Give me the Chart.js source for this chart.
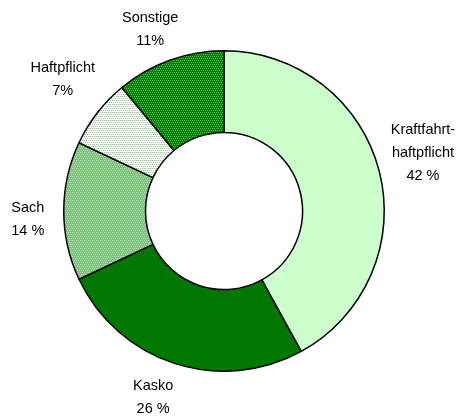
<!DOCTYPE html>
<html>
<head>
<meta charset="utf-8">
<script src="https://cdn.jsdelivr.net/npm/chart.js@4"></script>
<style>
  html, body { margin: 0; padding: 0; background: #fff; }
  #wrap { width: 461px; height: 416px; position: relative; }
</style>
</head>
<body>
<div id="wrap"><canvas id="chart"></canvas></div>
<script>
// Versicherungssparten, Anteile in Prozent
const categories = ['Kraftfahrt-haftpflicht', 'Kasko', 'Sach', 'Haftpflicht', 'Sonstige'];
const shares = [42, 26, 14, 7, 11];
// text lines drawn next to each slice
const labelLines = [
  ['Kraftfahrt-', 'haftpflicht', '42 %'],
  ['Kasko', '26 %'],
  ['Sach', '14 %'],
  ['Haftpflicht', '7%'],
  ['Sonstige', '11%']
];

// small dotted fill like the old office hatch patterns
function makePattern(bg, fg) {
  const c = document.createElement('canvas');
  c.width = 4;
  c.height = 4;
  const g = c.getContext('2d');
  g.fillStyle = bg;
  g.fillRect(0, 0, 4, 4);
  g.fillStyle = fg;
  g.fillRect(0, 0, 1, 1);
  g.fillRect(2, 0, 1, 1);
  g.fillRect(1, 2, 1, 1);
  g.fillRect(3, 2, 1, 1);
  return g.createPattern(c, 'repeat');
}

const sliceColors = [
  '#ccffcc',
  '#007800',
  makePattern('#7cc27c', '#b4e0b4'),
  makePattern('#ffffff', '#8fcb8f'),
  makePattern('#008000', '#52b452')
];

// labels are placed from the arc geometry: mid angle, outer radius + gap, then a nudge
const outsideLabels = {
  id: 'outsideLabels',
  afterDatasetsDraw(chart, args, opts) {
    const ctx = chart.ctx;
    const meta = chart.getDatasetMeta(0);
    ctx.save();
    ctx.font = opts.font;
    ctx.fillStyle = '#000';
    ctx.textAlign = 'center';
    ctx.textBaseline = 'middle';
    meta.data.forEach((arc, i) => {
      const p = arc.getProps(['x', 'y', 'startAngle', 'endAngle', 'outerRadius'], true);
      const mid = (p.startAngle + p.endAngle) / 2;
      const r = p.outerRadius + opts.gap;
      const nudge = opts.nudge[i];
      const cx = p.x + Math.cos(mid) * r + nudge[0];
      const cy = p.y + Math.sin(mid) * r + nudge[1];
      const lines = labelLines[i];
      const top = cy - (lines.length - 1) * opts.lineHeight / 2;
      lines.forEach((t, k) => ctx.fillText(t, cx, top + k * opts.lineHeight));
    });
    ctx.restore();
  }
};

new Chart(document.getElementById('chart'), {
  type: 'doughnut',
  data: {
    labels: categories,
    datasets: [{
      data: shares,
      backgroundColor: sliceColors,
      borderColor: '#000000',
      borderWidth: 1.5,
      hoverOffset: 0
    }]
  },
  options: {
    responsive: true,
    maintainAspectRatio: false,
    animation: false,
    cutout: '49%',
    layout: {
      padding: { top: 50, bottom: 44, left: 63, right: 76 }
    },
    plugins: {
      legend: { display: false },
      tooltip: { enabled: false },
      outsideLabels: {
        font: '14.5px "Liberation Sans", Arial, sans-serif',
        gap: 40,
        lineHeight: 23,
        nudge: [[5, -8], [-9, -4], [4, 8], [-3, -9], [-6, 7]]
      }
    }
  },
  plugins: [outsideLabels]
});
</script>
</body>
</html>
